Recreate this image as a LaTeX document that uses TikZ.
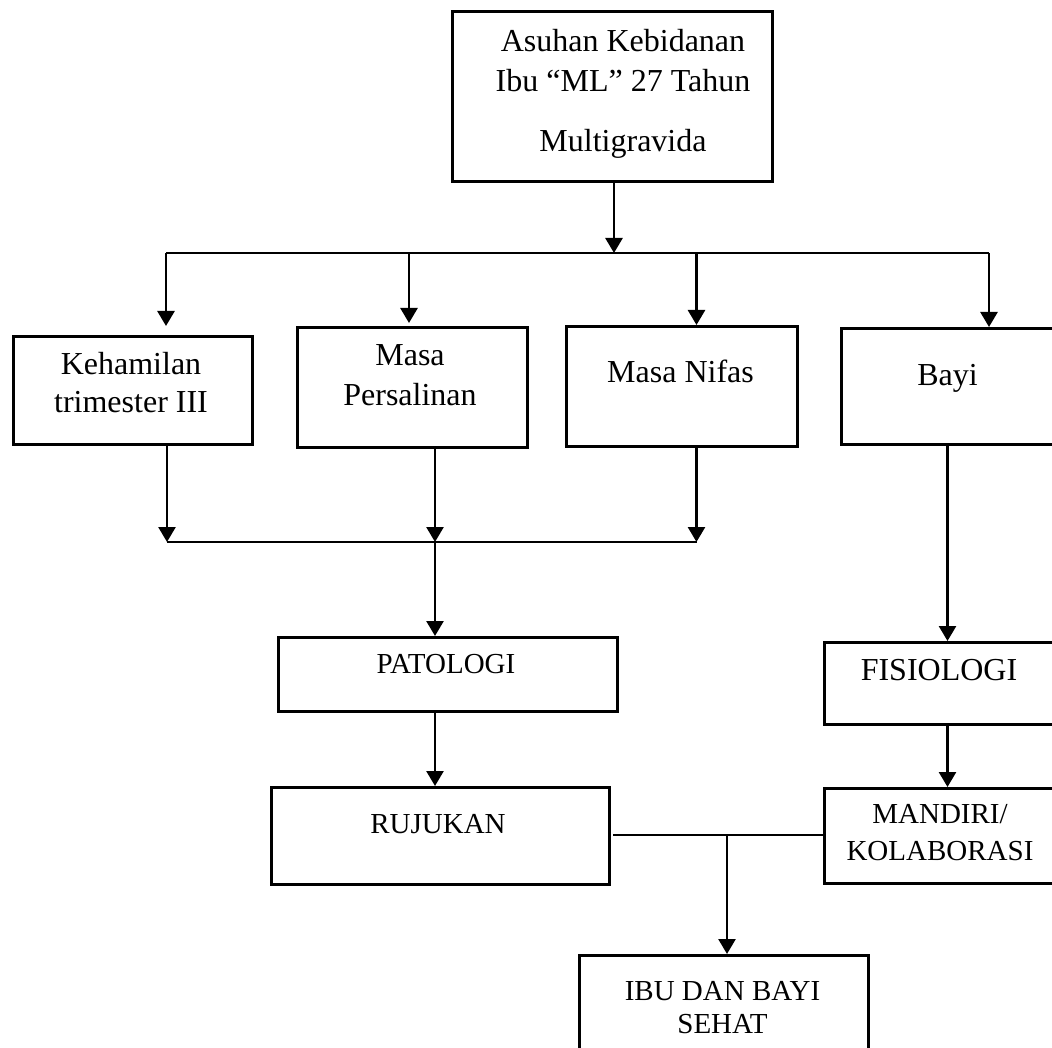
\documentclass[tikz,border=0pt]{standalone}
\usepackage{fontspec}
\setmainfont{Liberation Serif}
\usetikzlibrary{arrows.meta}
\begin{document}
\begin{tikzpicture}[x=1pt,y=-1pt,
  box/.style={draw,line width=2.6pt,inner sep=0pt,anchor=north west},
  big/.style={font=\fontsize{32}{40}\selectfont,inner sep=0pt,anchor=base,align=center},
  small/.style={font=\fontsize{29}{37}\selectfont,inner sep=0pt,anchor=base,align=center},
  arr/.style={line width=2.6pt,-{Triangle[width=17pt,length=15pt]}},
  thinline/.style={line width=1.4pt}]
\useasboundingbox (0,0) rectangle (1052,1048);
\clip (0,0) rectangle (1052,1048);
% boxes
\node[box,minimum width=320pt,minimum height=170pt] (top) at (451,10) {};
\node[box,minimum width=239pt,minimum height=108pt] (kb) at (12,335) {};
\node[box,minimum width=230pt,minimum height=120pt] (pb) at (296,326) {};
\node[box,minimum width=231pt,minimum height=120pt] (nb) at (565,325) {};
\node[box,minimum width=230pt,minimum height=116pt] (bb) at (840,327) {};
\node[box,minimum width=339pt,minimum height=74pt] (pat) at (277,636) {};
\node[box,minimum width=250pt,minimum height=82pt] (fis) at (823,641) {};
\node[box,minimum width=338pt,minimum height=97pt] (ruj) at (270,786) {};
\node[box,minimum width=250pt,minimum height=95pt] (man) at (823,787) {};
\node[box,minimum width=289pt,minimum height=110pt] (ibu) at (578,954) {};
% texts (base anchor = baseline of the last line)
\node[big] (ttop) at (623,152) {Asuhan Kebidanan\\Ibu “ML” 27 Tahun\\[20pt]Multigravida};
\node[big,font=\fontsize{32}{37}\selectfont] (tk) at (131,412) {Kehamilan\\trimester III};
\node[big] (tp) at (410,406) {Masa\\Persalinan};
\node[big] (tn) at (680.5,383) {Masa Nifas};
\node[big] (tb) at (947.5,385) {Bayi};
\node[small] (tpat) at (446,673) {PATOLOGI};
\node[big] (tfis) at (939,680) {FISIOLOGI};
\node[small] (truj) at (438,833) {RUJUKAN};
\node[small] (tman) at (940,860) {MANDIRI/\\KOLABORASI};
\node[small,font=\fontsize{29}{33}\selectfont] (tibu) at (722.5,1033) {IBU DAN BAYI\\SEHAT};
% connectors
\coordinate (j0) at (614,253);
\coordinate (hL) at (166,253);
\coordinate (hP) at (409,253);
\coordinate (hN) at (696.5,253);
\coordinate (hR) at (989,253);
\draw[arr] (top.south -| j0) -- (j0);
\draw[thinline] (hL) -- (hR);
\draw[arr,shorten >=9pt] (hL) -- (hL |- kb.north);
\draw[arr,shorten >=3pt] (hP) -- (hP |- pb.north);
\draw[arr] (hN) -- (hN |- nb.north);
\draw[arr] (hR) -- (hR |- bb.north);
\coordinate (lL) at (167,542);
\coordinate (lP) at (435,542);
\coordinate (lN) at (696.5,542);
\draw[arr] (kb.south -| lL) -- (lL);
\draw[arr] (pb.south -| lP) -- (lP);
\draw[arr] (nb.south -| lN) -- (lN);
\draw[thinline] (lL) -- (lN);
\draw[arr] (lP) -- (lP |- pat.north);
\draw[arr] (pat.south -| lP) -- (lP |- ruj.north);
\coordinate (bx) at (947.5,0);
\draw[arr] (bx |- bb.south) -- (bx |- fis.north);
\draw[arr] (bx |- fis.south) -- (bx |- man.north);
\coordinate (mL) at (613,835);
\coordinate (mJ) at (727,835);
\draw[thinline] (mL) -- (mL -| man.west);
\draw[arr] (mJ) -- (mJ |- ibu.north);
\end{tikzpicture}
\end{document}
